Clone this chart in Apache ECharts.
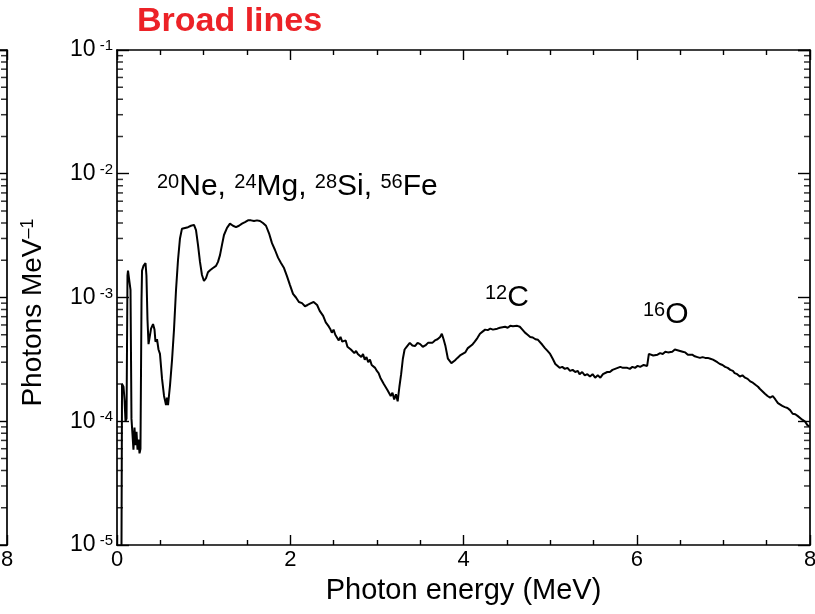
<!DOCTYPE html>
<html>
<head>
<meta charset="utf-8">
<script src="https://cdn.jsdelivr.net/npm/echarts@6/dist/echarts.min.js"></script>
<style>html,body{margin:0;padding:0;background:#fff;}#c{width:815px;height:614px;}</style>
</head>
<body>
<div id="c"></div>
<script>
// Photon energy (MeV)
const energy = [
0.052,0.058,0.075,0.087,0.098,0.11,0.121,0.127,0.144,0.156,0.167,0.179,0.19,0.202,0.214,0.225,0.237,0.248,0.26,0.271,
0.283,0.289,0.306,0.329,0.34,0.352,0.364,0.375,0.393,0.416,0.433,0.444,0.462,0.479,0.496,0.52,0.543,0.566,0.577,0.589,
0.612,0.635,0.658,0.681,0.704,0.727,0.75,0.785,0.82,0.854,0.889,0.912,0.935,0.958,0.981,1.004,1.027,1.05,1.074,1.108,
1.143,1.166,1.189,1.212,1.235,1.27,1.304,1.339,1.374,1.408,1.443,1.478,1.512,1.547,1.582,1.616,1.651,1.685,1.72,1.755,
1.789,1.824,1.859,1.893,1.928,1.962,1.997,2.032,2.066,2.10,2.136,2.17,2.20,2.24,2.27,2.31,2.34,2.38,2.41,2.44,
2.46,2.48,2.50,2.52,2.54,2.56,2.58,2.60,2.62,2.64,2.66,2.68,2.70,2.72,2.74,2.76,2.78,2.80,2.82,2.84,
2.86,2.88,2.90,2.92,2.94,2.96,2.98,3.00,3.02,3.04,3.06,3.08,3.10,3.12,3.14,3.16,3.18,3.20,3.22,3.24,
3.26,3.28,3.30,3.32,3.35,3.38,3.41,3.44,3.47,3.50,3.53,3.56,3.59,3.61,3.64,3.67,3.70,3.73,3.75,3.77,
3.79,3.82,3.86,3.90,3.93,3.96,3.99,4.02,4.05,4.07,4.10,4.13,4.16,4.19,4.22,4.25,4.28,4.31,4.34,4.36,
4.39,4.42,4.45,4.48,4.51,4.54,4.57,4.59,4.62,4.65,4.68,4.71,4.74,4.77,4.80,4.83,4.86,4.88,4.91,4.94,
4.97,5.00,5.03,5.06,5.08,5.11,5.14,5.17,5.20,5.23,5.26,5.29,5.32,5.34,5.37,5.40,5.43,5.46,5.49,5.52,
5.55,5.58,5.61,5.63,5.66,5.69,5.72,5.75,5.78,5.81,5.84,5.86,5.89,5.92,5.95,5.98,6.01,6.04,6.08,6.12,
6.14,6.16,6.19,6.21,6.24,6.27,6.30,6.33,6.36,6.38,6.41,6.44,6.47,6.50,6.53,6.56,6.59,6.61,6.64,6.67,
6.70,6.73,6.76,6.79,6.82,6.85,6.88,6.90,6.93,6.96,6.99,7.02,7.05,7.08,7.11,7.13,7.16,7.19,7.22,7.25,
7.28,7.31,7.34,7.37,7.40,7.42,7.45,7.48,7.51,7.54,7.57,7.60,7.63,7.65,7.68,7.71,7.74,7.77,7.80,7.83,
7.86,7.88,7.91,7.94,7.97,7.99
];
// Photons MeV^-1
const photons = [
1.0e-5,2.0e-4,1.9e-4,1.5e-4,1.0e-4,1.05e-4,1.5e-3,1.65e-3,1.6e-3,1.15e-3,1.05e-4,7.8e-5,5.9e-5,8.9e-5,6.4e-5,8.2e-5,5.9e-5,7.1e-5,5.5e-5,6.0e-5,
9.5e-4,1.65e-3,1.8e-3,1.9e-3,1.5e-3,6.6e-4,4.2e-4,4.3e-4,5.6e-4,6.1e-4,5.5e-4,4.4e-4,4.6e-4,3.8e-4,3.5e-4,2.2e-4,1.6e-4,1.35e-4,1.55e-4,1.35e-4,
1.95e-4,3.1e-4,5.5e-4,1.14e-3,2.0e-3,3.0e-3,3.6e-3,3.65e-3,3.7e-3,3.8e-3,3.86e-3,3.5e-3,2.66e-3,1.94e-3,1.52e-3,1.36e-3,1.43e-3,1.6e-3,1.66e-3,1.73e-3,
1.8e-3,1.94e-3,2.2e-3,2.66e-3,3.2e-3,3.65e-3,3.95e-3,3.8e-3,3.7e-3,3.8e-3,3.95e-3,4.07e-3,4.2e-3,4.2e-3,4.15e-3,4.2e-3,4.15e-3,4.0e-3,3.8e-3,3.3e-3,
2.75e-3,2.42e-3,2.1e-3,1.9e-3,1.73e-3,1.49e-3,1.26e-3,1.07e-3,1.0e-3,9.2e-4,9.0e-4,8.5e-4,8.7e-4,9.0e-4,9.2e-4,8.7e-4,7.8e-4,7.1e-4,6.3e-4,5.9e-4,
5.6e-4,5.2e-4,5.5e-4,5.0e-4,4.9e-4,4.5e-4,4.8e-4,4.4e-4,4.3e-4,4.5e-4,4.0e-4,4.1e-4,3.8e-4,3.9e-4,3.55e-4,3.7e-4,3.5e-4,3.6e-4,3.3e-4,3.5e-4,
3.15e-4,3.3e-4,3.0e-4,3.15e-4,2.85e-4,2.95e-4,2.7e-4,2.55e-4,2.45e-4,2.25e-4,2.3e-4,2.0e-4,1.95e-4,1.8e-4,1.85e-4,1.6e-4,1.7e-4,1.5e-4,1.65e-4,1.45e-4,
1.9e-4,2.4e-4,3.2e-4,3.8e-4,4.05e-4,4.3e-4,4.1e-4,4.05e-4,4.3e-4,4.2e-4,4.0e-4,4.1e-4,4.3e-4,4.4e-4,4.3e-4,4.5e-4,4.6e-4,4.8e-4,5.1e-4,4.6e-4,
4.1e-4,3.2e-4,2.95e-4,3.1e-4,3.25e-4,3.4e-4,3.5e-4,3.6e-4,3.9e-4,4.0e-4,4.15e-4,4.4e-4,4.7e-4,5.1e-4,5.3e-4,5.5e-4,5.45e-4,5.6e-4,5.5e-4,5.7e-4,
5.6e-4,5.7e-4,5.75e-4,5.8e-4,5.7e-4,5.9e-4,5.85e-4,6.0e-4,5.9e-4,5.8e-4,5.5e-4,5.2e-4,5.0e-4,4.8e-4,4.75e-4,4.6e-4,4.55e-4,4.4e-4,4.15e-4,3.9e-4,
3.7e-4,3.5e-4,3.2e-4,2.9e-4,2.8e-4,2.7e-4,2.75e-4,2.65e-4,2.7e-4,2.55e-4,2.6e-4,2.5e-4,2.55e-4,2.4e-4,2.5e-4,2.35e-4,2.4e-4,2.3e-4,2.4e-4,2.25e-4,
2.35e-4,2.25e-4,2.4e-4,2.35e-4,2.5e-4,2.5e-4,2.6e-4,2.65e-4,2.7e-4,2.75e-4,2.7e-4,2.8e-4,2.7e-4,2.65e-4,2.75e-4,2.7e-4,2.8e-4,2.75e-4,2.85e-4,2.8e-4,
3.5e-4,3.6e-4,3.4e-4,3.5e-4,3.45e-4,3.55e-4,3.5e-4,3.65e-4,3.6e-4,3.7e-4,3.65e-4,3.8e-4,3.75e-4,3.7e-4,3.65e-4,3.6e-4,3.45e-4,3.4e-4,3.45e-4,3.35e-4,
3.3e-4,3.25e-4,3.3e-4,3.25e-4,3.25e-4,3.2e-4,3.15e-4,3.1e-4,3.0e-4,2.9e-4,2.85e-4,2.75e-4,2.7e-4,2.6e-4,2.55e-4,2.45e-4,2.4e-4,2.3e-4,2.35e-4,2.25e-4,
2.2e-4,2.1e-4,2.05e-4,1.97e-4,1.9e-4,1.83e-4,1.75e-4,1.67e-4,1.6e-4,1.55e-4,1.6e-4,1.5e-4,1.4e-4,1.38e-4,1.33e-4,1.3e-4,1.28e-4,1.23e-4,1.15e-4,1.14e-4,
1.1e-4,1.08e-4,1.03e-4,1.0e-4,9.3e-5,9.1e-5
];
const xTicks = [0, 2, 4, 6, 8];
const yMinorTicks = [
2e-5,3e-5,4e-5,5e-5,6e-5,7e-5,8e-5,9e-5,
2e-4,3e-4,4e-4,5e-4,6e-4,7e-4,8e-4,9e-4,
2e-3,3e-3,4e-3,5e-3,6e-3,7e-3,8e-3,9e-3,
2e-2,3e-2,4e-2,5e-2,6e-2,7e-2,8e-2,9e-2
];
const titleText = 'Broad lines';
const xName = 'Photon energy (MeV)';

const FONT = 'Liberation Sans, Arial, Helvetica, sans-serif';
const chart = echarts.init(document.getElementById('c'), null, {renderer: 'canvas'});
const specData = energy.map((e, i) => [e, photons[i]]);

function yLabel(v) {
  const ex = Math.round(Math.log10(v));
  return '{a|10}{s| ' + ex + '}';
}
const yRich = {
  a: {fontFamily: FONT, fontSize: 23, color: '#000'},
  s: {fontFamily: FONT, fontSize: 15, color: '#000', verticalAlign: 'top', padding: [0, 0, 8, 0]}
};
const lineStyleAx = {color: '#000', width: 1.7};
const xCommon = {
  type: 'value', min: 0, max: 8, interval: 2,
  axisLine: {show: true, onZero: false, lineStyle: lineStyleAx},
  splitLine: {show: false},
  minorTick: {show: true, splitNumber: 4, length: 5, lineStyle: {color: '#000', width: 1.4}},
  minorSplitLine: {show: false}
};
const yCommon = {
  type: 'log', logBase: 10, min: 1e-5, max: 1e-1,
  axisLine: {show: true, onZero: false, lineStyle: lineStyleAx},
  splitLine: {show: false}
};

const tickSeries = (xi, yi, xv, off) => ({
  type: 'scatter', xAxisIndex: xi, yAxisIndex: yi, silent: true, clip: false,
  symbol: 'rect', symbolSize: [6, 1.5], symbolOffset: [off, 0],
  itemStyle: {color: '#000'}, animation: false,
  data: yMinorTicks.map(v => [xv, v])
});

chart.setOption({
  animation: false,
  backgroundColor: '#fff',
  title: {
    text: titleText, left: 137, top: 5, padding: 0,
    textStyle: {fontFamily: FONT, fontSize: 34, fontWeight: 'bold', color: '#ec2227'}
  },
  grid: [
    {left: 117, right: 5, top: 50, bottom: 69, outerBoundsMode: 'none', containLabel: false},
    {left: -593, right: 808, top: 50, bottom: 69, outerBoundsMode: 'none', containLabel: false}
  ],
  xAxis: [
    Object.assign({}, xCommon, {
      gridIndex: 0, position: 'bottom',
      axisTick: {show: true, inside: true, length: 10, lineStyle: {color: '#000', width: 1.4}},
      axisLabel: {show: true, margin: 4, fontFamily: FONT, fontSize: 22, color: '#000'},
      name: xName, nameLocation: 'middle', nameGap: 31,
      nameTextStyle: {fontFamily: FONT, fontSize: 29, color: '#000'}
    }),
    Object.assign({}, xCommon, {
      gridIndex: 0, position: 'top',
      axisTick: {show: true, inside: true, length: 10, lineStyle: {color: '#000', width: 1.4}},
      axisLabel: {show: false}
    }),
    Object.assign({}, xCommon, {
      gridIndex: 1, position: 'bottom',
      axisTick: {show: true, inside: true, length: 10, lineStyle: {color: '#000', width: 1.4}},
      axisLabel: {show: true, margin: 4, fontFamily: FONT, fontSize: 22, color: '#000'}
    }),
    Object.assign({}, xCommon, {
      gridIndex: 1, position: 'top',
      axisTick: {show: true, inside: true, length: 10, lineStyle: {color: '#000', width: 1.4}},
      axisLabel: {show: false}
    })
  ],
  yAxis: [
    Object.assign({}, yCommon, {
      gridIndex: 0, position: 'left',
      axisTick: {show: true, inside: true, length: 12, lineStyle: {color: '#000', width: 1.4}},
      axisLabel: {show: true, margin: 4, formatter: yLabel, rich: yRich},
      name: '{n|Photons MeV}{s|\u20131}', nameLocation: 'middle', nameGap: 70, nameRotate: 90,
      nameTextStyle: {
        padding: [0, 30, 0, 0],
        rich: {
          n: {fontFamily: FONT, fontSize: 28, color: '#000'},
          s: {fontFamily: FONT, fontSize: 18, color: '#000', verticalAlign: 'top', padding: [0, 0, 10, 0]}
        }
      }
    }),
    Object.assign({}, yCommon, {
      gridIndex: 0, position: 'right',
      axisTick: {show: true, inside: true, length: 12, lineStyle: {color: '#000', width: 1.4}},
      axisLabel: {show: false}
    }),
    Object.assign({}, yCommon, {
      gridIndex: 1, position: 'right',
      axisTick: {show: true, inside: true, length: 12, lineStyle: {color: '#000', width: 1.4}},
      axisLabel: {show: false}
    })
  ],
  series: [
    {
      name: 'Broad lines', type: 'line', xAxisIndex: 0, yAxisIndex: 0,
      data: specData, showSymbol: false, symbol: 'none', clip: true,
      lineStyle: {color: '#000', width: 2}, silent: true
    },
    tickSeries(0, 0, 0, 3),
    tickSeries(0, 0, 8, -3),
    tickSeries(2, 2, 8, -3)
  ],
  graphic: [
    {
      type: 'text', left: 157, top: 172, silent: true,
      style: {
        text: '{s|20}{m|Ne, }{s|24}{m|Mg, }{s|28}{m|Si, }{s|56}{m|Fe}',
        rich: {
          m: {fontFamily: FONT, fontSize: 30, fill: '#000'},
          s: {fontFamily: FONT, fontSize: 20, fill: '#000', verticalAlign: 'top'}
        }
      }
    },
    {
      type: 'text', left: 485, top: 283, silent: true,
      style: {
        text: '{s|12}{m|C}',
        rich: {
          m: {fontFamily: FONT, fontSize: 30, fill: '#000'},
          s: {fontFamily: FONT, fontSize: 20, fill: '#000', verticalAlign: 'top'}
        }
      }
    },
    {
      type: 'text', left: 643, top: 300, silent: true,
      style: {
        text: '{s|16}{m|O}',
        rich: {
          m: {fontFamily: FONT, fontSize: 30, fill: '#000'},
          s: {fontFamily: FONT, fontSize: 20, fill: '#000', verticalAlign: 'top'}
        }
      }
    }
  ]
});
</script>
</body>
</html>
